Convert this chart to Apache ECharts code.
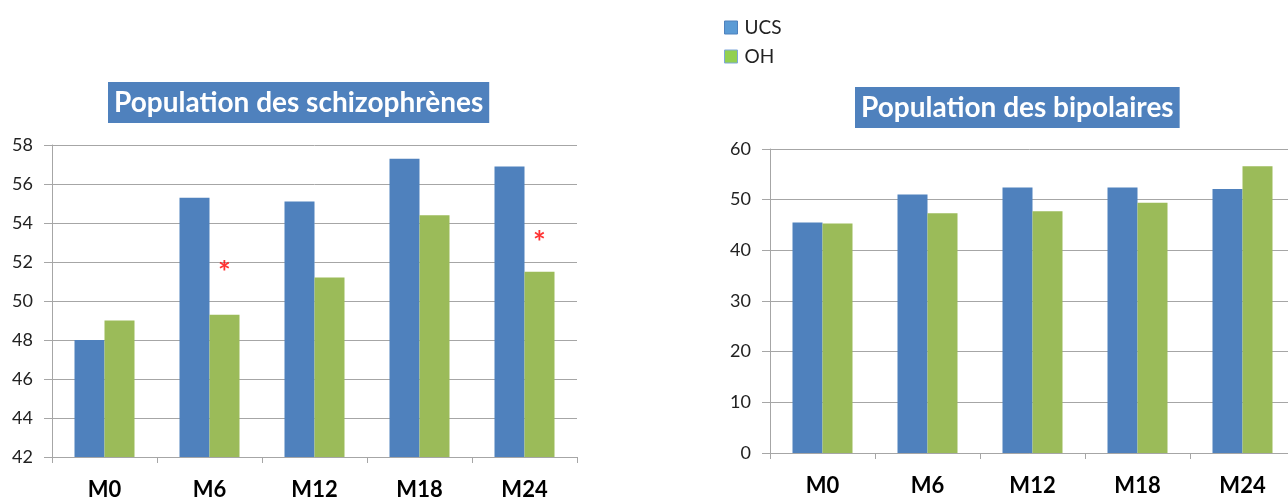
<!DOCTYPE html>
<html>
<head>
<meta charset="utf-8">
<script src="https://cdn.jsdelivr.net/npm/echarts@6/dist/echarts.min.js"></script>
<style>
  html, body { margin: 0; padding: 0; background: #fff; }
  #chart { width: 1288px; height: 497px; }
</style>
</head>
<body>
<div id="chart"></div>
<script>
// Visits (months of follow-up)
const visits = ['M0', 'M6', 'M12', 'M18', 'M24'];

// Schizophrenia group
const schizoUCS = [48.0, 55.3, 55.1, 57.3, 56.9];
const schizoOH  = [49.0, 49.3, 51.2, 54.4, 51.5];
// Height at which the significance asterisk sits ('-' = none)
const schizoSignif = ['-', 51.9, '-', '-', 53.4];

// Bipolar group
const bipoUCS = [45.5, 51.0, 52.4, 52.4, 52.1];
const bipoOH  = [45.3, 47.3, 47.7, 49.4, 56.6];

const seriesNames = ['UCS', 'OH'];
const BLUE = '#4F81BD';
const GREEN = '#9BBB59';
const FONT = 'Lato';

const chart = echarts.init(document.getElementById('chart'), null, { renderer: 'canvas' });

function titleBox(text, left, top) {
  return {
    text: text,
    left: left,
    top: top,
    padding: [6, 6, 6, 6],
    backgroundColor: BLUE,
    textStyle: { color: '#fff', fontFamily: FONT, fontWeight: 'bold', fontSize: 28, lineHeight: 29 }
  };
}

function catAxis(gridIndex) {
  return {
    type: 'category',
    gridIndex: gridIndex,
    data: visits,
    axisLine: { lineStyle: { color: '#A6A6A6', width: 1 } },
    axisTick: { show: true, length: 6, alignWithLabel: false, lineStyle: { color: '#A6A6A6' } },
    axisLabel: { color: '#000', fontFamily: FONT, fontWeight: 'bold', fontSize: 22, margin: 22 }
  };
}

function valAxis(gridIndex, min, max, interval) {
  return {
    type: 'value',
    gridIndex: gridIndex,
    min: min, max: max, interval: interval,
    axisLine: { show: true, lineStyle: { color: '#A6A6A6', width: 1 } },
    axisTick: { show: true, length: 8, lineStyle: { color: '#A6A6A6' } },
    splitLine: { show: true, lineStyle: { color: '#A6A6A6', width: 1 } },
    axisLabel: { color: '#222', fontFamily: FONT, fontSize: 18, margin: 19 }
  };
}

function bars(name, data, axisIndex, color) {
  return {
    name: name,
    type: 'bar',
    xAxisIndex: axisIndex,
    yAxisIndex: axisIndex,
    data: data,
    barWidth: 30,
    barGap: '0%',
    itemStyle: { color: color },
    emphasis: { disabled: true }
  };
}

chart.setOption({
  animation: false,
  backgroundColor: '#fff',
  title: [
    titleBox('Population des schizophrènes', 108, 82),
    titleBox('Population des bipolaires', 855, 87)
  ],
  legend: {
    orient: 'vertical',
    left: 719,
    top: 13,
    itemWidth: 13,
    itemHeight: 13,
    itemGap: 10,
    textStyle: { color: '#222', fontFamily: FONT, fontSize: 19, lineHeight: 18, padding: [0, 0, 0, 2] },
    data: [
      { name: 'UCS', icon: 'rect', itemStyle: { color: '#5B9BD5', borderColor: '#4F81BD', borderWidth: 1 } },
      { name: 'OH', icon: 'rect', itemStyle: { color: '#92D050', borderColor: '#7FA7D9', borderWidth: 1 } }
    ]
  },
  grid: [
    { left: 52, top: 145, width: 525, height: 312, containLabel: false, outerBoundsMode: 'none' },
    { left: 770, top: 149, width: 525, height: 304, containLabel: false, outerBoundsMode: 'none' }
  ],
  xAxis: [catAxis(0), catAxis(1)],
  yAxis: [valAxis(0, 42, 58, 2), valAxis(1, 0, 60, 10)],
  series: [
    bars(seriesNames[0], schizoUCS, 0, BLUE),
    bars(seriesNames[1], schizoOH, 0, GREEN),
    bars(seriesNames[0], bipoUCS, 1, BLUE),
    bars(seriesNames[1], bipoOH, 1, GREEN),
    {
      name: 'signif',
      type: 'scatter',
      xAxisIndex: 0,
      yAxisIndex: 0,
      data: schizoSignif,
      symbolSize: 1,
      itemStyle: { color: 'rgba(0,0,0,0)' },
      label: {
        show: true,
        formatter: '*',
        position: 'inside',
        offset: [15, 9],
        color: '#FF0000',
        fontFamily: FONT,
        fontWeight: 'bold',
        fontSize: 30
      },
      emphasis: { disabled: true },
      z: 5
    }
  ]
});
</script>
</body>
</html>
